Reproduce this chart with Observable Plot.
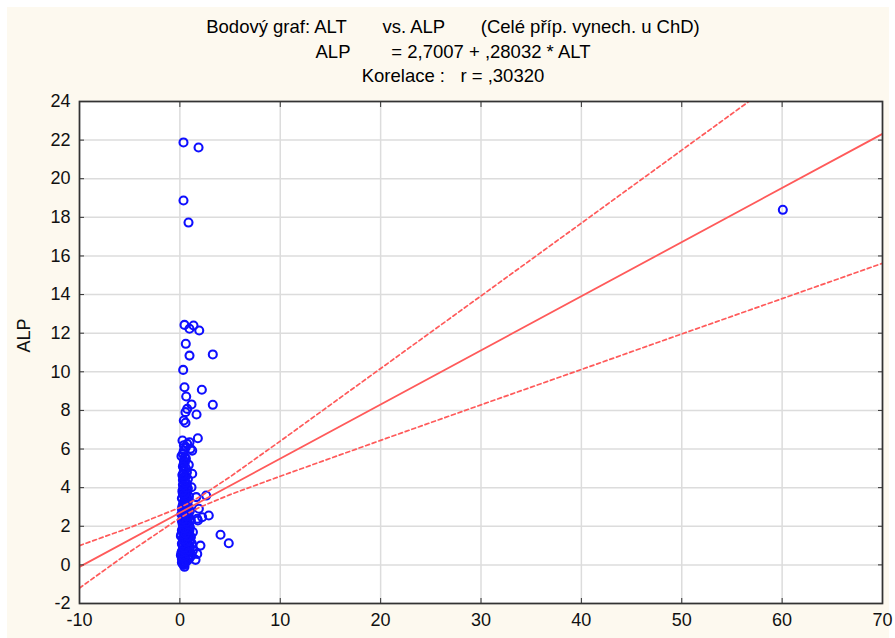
<!DOCTYPE html>
<html>
<head>
<meta charset="utf-8">
<script src="https://cdn.jsdelivr.net/npm/d3@7"></script>
<script src="https://cdn.jsdelivr.net/npm/@observablehq/plot@0.6"></script>
<style>
  html, body { margin: 0; padding: 0; background: #ffffff; }
  #wrap { position: relative; width: 895px; height: 638px; overflow: hidden; background: #ffffff; }
  #cream { position: absolute; left: 7px; top: 7px; width: 882px; height: 631px; background: #fdf9ef; }
  #title { position: absolute; left: 0; top: 15px; width: 906px; text-align: center;
           font-family: "Liberation Sans", Arial, sans-serif; font-size: 18.5px; line-height: 24.5px;
           color: #000; white-space: pre; }
  #chart { position: absolute; left: 0; top: 90px; }
</style>
</head>
<body>
<div id="wrap">
  <div id="cream"></div>
  <div id="title"></div>
  <div id="chart"></div>
</div>
<script>
// ---- Title texts ----
const titleLines = [
  "Bodový graf: ALT       vs. ALP       (Celé příp. vynech. u ChD)",
  "ALP        = 2,7007 + ,28032 * ALT",
  "Korelace :   r = ,30320"
];

// ---- Axis ticks ----
const xTicks = [-10, 0, 10, 20, 30, 40, 50, 60, 70];
const yTicks = [-2, 0, 2, 4, 6, 8, 10, 12, 14, 16, 18, 20, 22, 24];

// ---- Regression coefficients (from the title) ----
const intercept = 2.7007;
const slope = 0.28032;
const lineX = [-10, 70];

// ---- 95% confidence band ----
const bandX     = [-10, -5, 0, 1, 2, 5, 10, 20, 30, 40, 50, 60, 70];
const bandUpper = [1.00, 1.93, 2.97, 3.23, 3.53, 4.56, 6.41, 10.17, 13.93, 17.70, 21.48, 25.25, 29.02];
const bandLower = [-1.20, 0.67, 2.43, 2.73, 2.99, 3.64, 4.59, 6.45, 8.29, 10.12, 11.96, 13.79, 15.62];

// ---- Scatter data (ALT, ALP) ----
const ALT = [
  // outliers
  0.36, 1.86, 0.36, 0.86, 60.07,
  0.46, 1.36, 0.96, 1.93, 0.59, 0.96, 3.28, 0.33, 0.46, 2.19, 0.63,
  1.16, 3.28, 0.73, 0.56, 1.66, 0.39, 0.56, 0.26, 0.96, 1.79, 0.73, 1.06, 0.39, 1.23, 0.16, 0.49, 0.39, 0.89, 0.39,
  2.62, 1.63, 1.89, 2.88, 1.73, 2.22, 1.16, 1.23,
  4.05, 4.87, 1.79, 2.05, 1.73, 1.56, 0.46,
  // dense core
  0.4, 0.5, 0.3, 0.7, 0.2, 0.9, 0.5, 0.8, 0.1, 1.2, 0.4, 0.6, 0.9, 0.2, 1.3, 0.5, 0.7, 1.0, 0.3, 0.6,
  0.8, 0.2, 1.2, 0.5, 0.7, 1.0, 0.3, 0.5, 1.1, 0.1, 0.8, 0.4, 0.9, 1.3, 0.6, 0.2, 0.8, 0.4, 1.0, 0.6,
  0.3, 0.9, 0.5, 0.7, 0.2, 1.1, 0.4, 0.7, 0.9, 0.3, 0.6, 0.8, 0.4, 1.0, 0.5, 0.2, 0.7, 0.4,
  0.8, 0.3, 0.6, 0.4, 0.8, 0.5, 0.2, 0.7, 0.9, 0.4, 0.3, 0.7, 0.5, 0.3, 0.8,
  0.5, 0.3, 0.7, 0.5, 0.3, 0.8, 0.4, 0.6, 0.3, 0.7, 0.4, 0.6,
  0.4, 0.6, 0.3, 0.6, 0.4, 0.5, 0.3,
  0.3, 0.6, 0.4, 0.6, 0.3, 0.7, 0.5, 0.6,
  0.2, 0.6, 1.0, 0.35, 0.75, 0.15, 0.55, 0.95, 0.45, 0.85, 0.25, 0.65, 1.05, 0.35, 0.75, 0.15, 0.55, 0.95, 0.45, 0.85,
  0.25, 0.65, 0.35, 0.75, 0.15, 0.55, 0.45, 0.85, 0.25, 0.65, 0.35, 0.75, 0.55, 0.45, 0.25, 0.65, 0.35, 0.55, 0.45, 0.25
];
const ALP = [
  21.88, 21.62, 18.87, 17.73, 18.39,
  12.43, 12.40, 12.23, 12.14, 11.45, 10.84, 10.90, 10.10, 9.20, 9.07, 8.72,
  8.31, 8.29, 8.08, 7.91, 7.79, 7.48, 7.36, 6.44, 6.35, 6.56, 6.27, 6.01, 5.92, 5.92, 5.63, 5.58, 5.24, 5.18, 5.06,
  3.59, 3.51, 2.91, 2.56, 2.39, 2.47, 4.02, 4.72,
  1.56, 1.12, 2.30, 1.00, 0.57, 0.26, -0.10,
  0.00, 0.10, 0.15, 0.20, 0.30, 0.30, 0.35, 0.45, 0.50, 0.50, 0.55, 0.60, 0.65, 0.70, 0.75, 0.80, 0.85, 0.90, 0.95, 1.00,
  1.05, 1.10, 1.10, 1.15, 1.25, 1.30, 1.35, 1.40, 1.45, 1.50, 1.55, 1.60, 1.65, 1.70, 1.75, 1.80, 1.85, 1.90, 1.95, 2.00,
  2.05, 2.10, 2.15, 2.25, 2.30, 2.30, 2.40, 2.45, 2.50, 2.55, 2.60, 2.70, 2.75, 2.80, 2.85, 2.90, 2.95, 3.00,
  3.05, 3.10, 3.15, 3.25, 3.30, 3.40, 3.45, 3.50, 3.55, 3.60, 3.70, 3.75, 3.80, 3.90, 3.95,
  4.05, 4.15, 4.20, 4.30, 4.40, 4.45, 4.55, 4.60, 4.70, 4.80, 4.90, 5.00,
  5.40, 5.50, 5.75, 6.10, 6.20, 5.30, 5.10,
  0.05, 0.25, 0.75, 1.20, 1.70, 2.00, 2.70, 3.60,
  0.12, 0.18, 0.40, 0.42, 0.58, 0.62, 0.68, 0.78, 0.88, 1.02, 1.08, 1.18, 1.22, 1.32, 1.48, 1.58, 1.62, 1.78, 1.88, 2.08,
  2.18, 2.22, 2.35, 2.52, 2.62, 2.68, 2.88, 2.98, 3.02, 3.12, 3.22, 3.38, 3.48, 3.68, 3.82, 3.98, 4.12, 4.25, 4.50, 4.65
];

document.getElementById("title").textContent = titleLines.join("\n");

const points = ALT.map((a, i) => ({alt: a, alp: ALP[i]}));
const regLine = lineX.map(x => ({x, y: intercept + slope * x}));
const upper = bandX.map((x, i) => ({x, y: bandUpper[i]}));
const lower = bandX.map((x, i) => ({x, y: bandLower[i]}));

const red = "#ff5a5a";
const fmt = d => String(d);
const blank = () => "";

const chart = Plot.plot({
  width: 895,
  height: 548,
  marginTop: 11,
  marginBottom: 35,
  marginLeft: 79,
  marginRight: 13,
  style: {fontFamily: "'Liberation Sans', Arial, sans-serif", fontSize: "18px", color: "#111", background: "transparent", overflow: "visible"},
  x: {domain: [-10, 70], ticks: xTicks, label: null},
  y: {domain: [-2, 24], ticks: yTicks, label: null},
  marks: [
    Plot.frame({fill: "white", stroke: "none"}),
    Plot.gridX({ticks: xTicks, stroke: "#dcdcdc", strokeOpacity: 1, strokeWidth: 1.5}),
    Plot.gridY({ticks: yTicks, stroke: "#dcdcdc", strokeOpacity: 1, strokeWidth: 1.5}),
    Plot.dot(points, {x: "alt", y: "alp", r: 4, stroke: "#0f0fff", strokeWidth: 2.1, fill: "none"}),
    Plot.line(upper, {x: "x", y: "y", stroke: red, strokeWidth: 1.7, strokeDasharray: "4,3", clip: true}),
    Plot.line(lower, {x: "x", y: "y", stroke: red, strokeWidth: 1.7, strokeDasharray: "4,3", clip: true}),
    Plot.line(regLine, {x: "x", y: "y", stroke: red, strokeWidth: 1.8, clip: true}),
    Plot.frame({stroke: "#333", strokeWidth: 1.7}),
    // inward tick marks on all four sides
    Plot.axisX({anchor: "bottom", ticks: xTicks, tickSize: 5, dy: -5, tickFormat: blank, label: null, stroke: "#333"}),
    Plot.axisX({anchor: "top", ticks: xTicks, tickSize: 5, dy: 5, tickFormat: blank, label: null, stroke: "#333"}),
    Plot.axisY({anchor: "left", ticks: yTicks, tickSize: 5, dx: 5, tickFormat: blank, label: null, stroke: "#333"}),
    Plot.axisY({anchor: "right", ticks: yTicks, tickSize: 5, dx: -5, tickFormat: blank, label: null, stroke: "#333"}),
    // tick labels
    Plot.axisX({anchor: "bottom", ticks: xTicks, tickSize: 0, tickPadding: 10, tickFormat: fmt, label: null, fontSize: 18}),
    Plot.axisY({anchor: "left", ticks: yTicks, tickSize: 0, tickPadding: 9, tickFormat: fmt, label: null, fontSize: 18}),
    // y axis title
    Plot.text(["ALP"], {frameAnchor: "left", dx: -55, rotate: -90, fontSize: 18, fill: "#111"})
  ]
});
document.getElementById("chart").appendChild(chart);
</script>
</body>
</html>
